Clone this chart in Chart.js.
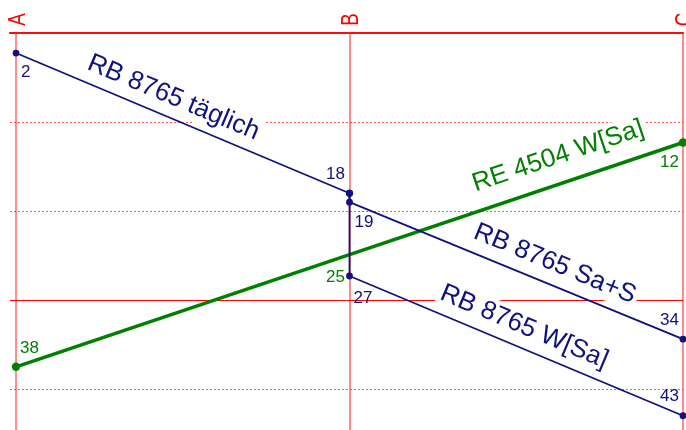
<!DOCTYPE html>
<html>
<head>
<meta charset="utf-8">
<script src="https://cdn.jsdelivr.net/npm/chart.js@4.4.1/dist/chart.umd.min.js"></script>
<style>
    html, body { margin: 0; padding: 0; background: #fff; }
    #wrap { width: 686px; height: 430px; }
</style>
</head>
<body>
<div id="wrap"><canvas id="graph"></canvas></div>
<script>
// stations along the line (x) and times in minutes (y, downwards)
const stations = ['A', 'B', 'C'];
const stationPos = [0, 1, 2];

const rbDailyStops = [0, 1];
const rbDailyTimes = [2.25, 18.0];
const rbDailyLabels = ['2', '18'];

const rbSaSStops = [1, 1, 2];
const rbSaSTimes = [18.0, 19.0, 34.4];
const rbSaSLabels = ['', '19', '34'];

const rbWSaStops = [1, 1, 2];
const rbWSaTimes = [18.0, 27.3, 43.0];
const rbWSaLabels = ['', '27', '43'];

const reStops = [0, 1, 2];
const reTimes = [37.5, 24.9, 12.3];
const reLabels = ['38', '25', '12'];

const trainNames = ['RB 8765 täglich', 'RB 8765 Sa+S', 'RB 8765 W[Sa]', 'RE 4504 W[Sa]'];

const topTime = [0];
const solidTimes = [30];
const dottedTimes = [10, 20, 40];

const NAVY = '#10107f';
const GREEN = '#008000';
const FONT = 'Arial, "Liberation Sans", sans-serif';

const toPoints = (stops, times) => stops.map((s, i) => ({ x: stationPos[s], y: times[i] }));
const allLabels = [rbDailyLabels, rbSaSLabels, rbWSaLabels, reLabels];

// where names sit: segment start index, fraction along it, offset above the line
const namePlacement = [
    { from: 0, t: 0.449, off: 19.8 },
    { from: 1, t: 0.592, off: 21 },
    { from: 1, t: 0.50, off: 20.6 },
    { from: 1, t: 0.651, off: 26.8 }
];
// time labels: [dataset, point, dx, dy, align]
const timePlacement = [
    [0, 0, 5, 24, 'left'], [0, 1, -4.5, -14.5, 'right'],
    [1, 1, 5, 24.6, 'left'], [1, 2, -4, -14, 'right'],
    [2, 1, 4, 27, 'left'], [2, 2, -4, -15, 'right'],
    [3, 0, 4, -14, 'left'], [3, 1, -4.5, 27, 'right'], [3, 2, -4, 25, 'right']
];

const graphText = {
    id: 'graphText',
    beforeDatasetsDraw(chart) {
        const ctx = chart.ctx;
        ctx.save();
        ctx.font = '26px ' + FONT;
        ctx.textAlign = 'center';
        ctx.textBaseline = 'middle';
        namePlacement.forEach((p, di) => {
            const pts = chart.getDatasetMeta(di).data;
            const a = pts[p.from], b = pts[p.from + 1];
            const dx = b.x - a.x, dy = b.y - a.y;
            const len = Math.hypot(dx, dy);
            const ux = dx / len, uy = dy / len;
            const cx = a.x + dx * p.t + uy * p.off;
            const cy = a.y + dy * p.t - ux * p.off;
            ctx.save();
            ctx.translate(cx, cy);
            ctx.rotate(Math.atan2(dy, dx));
            const w = ctx.measureText(trainNames[di]).width;
            ctx.fillStyle = '#fff';
            ctx.fillRect(-w / 2 - 3, -15, w + 6, 30);
            ctx.fillStyle = di === 3 ? GREEN : NAVY;
            ctx.fillText(trainNames[di], 0, 0);
            ctx.restore();
        });
        ctx.restore();
    },
    afterDatasetsDraw(chart) {
        const ctx = chart.ctx;
        ctx.save();
        ctx.font = '17px ' + FONT;
        ctx.textBaseline = 'alphabetic';
        timePlacement.forEach(([di, pi, dx, dy, align]) => {
            const el = chart.getDatasetMeta(di).data[pi];
            ctx.fillStyle = di === 3 ? GREEN : NAVY;
            ctx.textAlign = align;
            ctx.fillText(allLabels[di][pi], el.x + dx, el.y + dy);
        });

        // station names, turned upwards
        const xs = chart.scales.x;
        ctx.fillStyle = '#ff0000';
        ctx.font = '24px ' + FONT;
        ctx.textAlign = 'center';
        stations.forEach((s, i) => {
            ctx.save();
            ctx.translate(xs.getPixelForValue(stationPos[i]) + 8.6, 19.5);
            ctx.rotate(-Math.PI / 2);
            ctx.scale(0.78, 1);
            ctx.fillText(s, 0, 0);
            ctx.restore();
        });
        ctx.restore();
    }
};

const lineStyle = (color, width, radius) => ({
    borderColor: color,
    backgroundColor: color,
    pointBackgroundColor: color,
    pointBorderColor: color,
    borderWidth: width,
    pointRadius: radius,
    pointBorderWidth: 0,
    tension: 0,
    fill: false,
    clip: false
});

// horizontal time lines, one hidden y axis per line style
const timeAxis = (ticks, color, width, dash) => ({
    type: 'linear',
    position: 'left',
    reverse: true,
    min: 0,
    max: 44.6,
    afterBuildTicks: s => { s.ticks = ticks.map(v => ({ value: v })); },
    ticks: { display: false },
    border: { display: false, dash: dash },
    grid: { drawTicks: false, color: color, lineWidth: width }
});

new Chart(document.getElementById('graph'), {
    type: 'line',
    data: {
        datasets: [
            { label: trainNames[0], data: toPoints(rbDailyStops, rbDailyTimes), ...lineStyle(NAVY, 1.8, 3.4) },
            { label: trainNames[1], data: toPoints(rbSaSStops, rbSaSTimes), ...lineStyle(NAVY, 1.8, 3.4) },
            { label: trainNames[2], data: toPoints(rbWSaStops, rbWSaTimes), ...lineStyle(NAVY, 1.8, 3.4) },
            { label: trainNames[3], data: toPoints(reStops, reTimes), ...lineStyle(GREEN, 3.5, [4.2, 0, 4.2]) }
        ]
    },
    options: {
        responsive: true,
        maintainAspectRatio: false,
        animation: false,
        events: [],
        layout: { autoPadding: false, padding: { left: 10, right: 3, top: 33, bottom: 0 } },
        plugins: { legend: { display: false }, tooltip: { enabled: false } },
        scales: {
            x: {
                type: 'linear',
                position: 'top',
                min: -0.018,
                max: 2,
                afterBuildTicks: s => { s.ticks = stationPos.map(v => ({ value: v })); },
                ticks: { display: false },
                border: { display: true, color: 'rgba(255,0,0,0.8)', width: 2 },
                grid: { drawTicks: false, color: 'rgba(255,0,0,0.45)', lineWidth: 2 }
            },
            y: timeAxis(topTime, 'rgba(255,0,0,0.8)', 2, []),
            y3: timeAxis(solidTimes, '#ff0000', 1, []),
            y2: timeAxis(dottedTimes, 'rgba(255,0,0,0.65)', 1, [2, 2])
        }
    },
    plugins: [graphText]
});
</script>
</body>
</html>
